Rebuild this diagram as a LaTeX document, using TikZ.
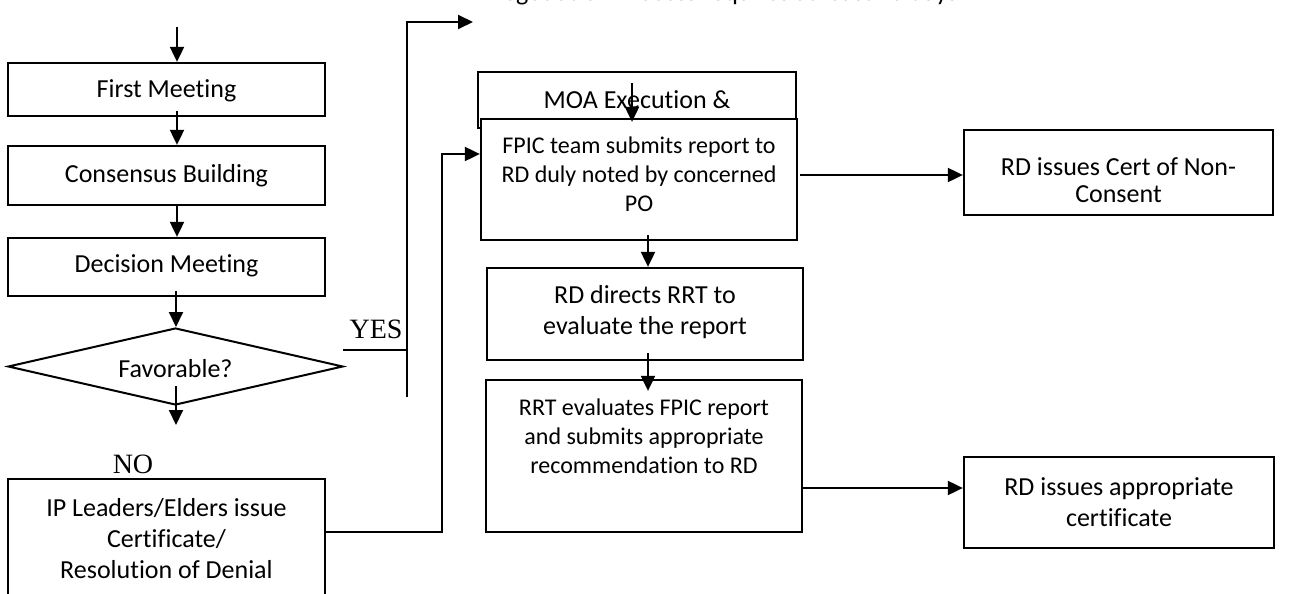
\documentclass[tikz,border=0pt]{standalone}
\usepackage{fontspec}
\setmainfont[Ligatures={NoCommon}]{Carlito}
\newfontfamily\serifyn{Liberation Serif}
\usetikzlibrary{arrows.meta,shapes.geometric,calc}
\tikzset{
  box/.style={draw=black, line width=2.3pt, fill=white, rectangle, inner sep=0pt},
  txt/.style={align=center, inner sep=0pt, font=\fontsize{26}{31}\selectfont},
  stxt/.style={align=center, inner sep=0pt, font=\fontsize{24}{29}\selectfont},
  arr/.style={line width=2pt, -{Triangle[length=15pt,width=14pt]}},
  ln/.style={line width=2pt},
  yn/.style={inner sep=0pt, font=\serifyn\fontsize{28}{30}\selectfont}
}
\begin{document}
\begin{tikzpicture}[x=1pt,y=-1pt]
\useasboundingbox (0,0) rectangle (1294,594);
% clipped heading
\node[txt, anchor=base] (head) at (722,1) {Negotiation Process requires at least 15 days};
% left column
\node[box, minimum width=317pt, minimum height=53pt] (first) at (166.5,89.5) {};
\node[txt] (firstT) at (166.5,91) {First Meeting};
\node[box, minimum width=317pt, minimum height=59pt] (cons) at (166.5,175.5) {};
\node[txt] (consT) at (166.5,176) {Consensus Building};
\node[box, minimum width=317pt, minimum height=58pt] (dec) at (166.5,267) {};
\node[txt] (decT) at (166.5,266) {Decision Meeting};
\node[draw=black, line width=2pt, diamond, inner sep=0pt, minimum width=335pt, minimum height=77pt] (fav) at (175.5,366.5) {};
\node[txt] (favT) at (175.5,369) {Favorable?};
\node[yn] (no) at (133,464) {NO};
\node[box, minimum width=317pt, minimum height=131pt] (ip) at (166.5,544.5) {};
\node[txt] (ipT) at (166.5,539) {IP Leaders/Elders issue\\Certificate/\\Resolution of Denial};
\node[yn] (yes) at (376,329) {YES};
% middle column
\node[box, minimum width=318pt, minimum height=56pt] (moa) at (637,100) {};
\node[txt] (moaT) at (637,100) {MOA Execution \&};
\node[box, minimum width=316pt, minimum height=121pt] (fpic) at (639,179.5) {};
\node[stxt] (fpicT) at (639,174) {FPIC team submits report to\\RD duly noted by concerned\\PO};
\node[box, minimum width=316pt, minimum height=92pt] (rdd) at (645,314) {};
\node[txt] (rddT) at (645,312.5) {RD directs RRT to\\evaluate the report};
\node[box, minimum width=316pt, minimum height=152pt] (rrt) at (644,456) {};
\node[stxt] (rrtT) at (644,436) {RRT evaluates FPIC report\\and submits appropriate\\recommendation to RD};
% right column
\node[box, minimum width=309pt, minimum height=85pt] (noncons) at (1118.5,172.5) {};
\node[txt, font=\fontsize{26}{27}\selectfont] (nonconsT) at (1118.5,180) {RD issues Cert of Non-\\Consent};
\node[box, minimum width=310pt, minimum height=91pt] (appr) at (1119,502.5) {};
\node[txt] (apprT) at (1119,502.5) {RD issues appropriate\\certificate};
% connectors
\coordinate (start) at (177,27);
\draw[arr] (start) -- (start |- first.north);
\draw[arr] ([xshift=10.5pt,yshift=6pt]first.south) -- ([xshift=10.5pt]cons.north);
\draw[arr] ([xshift=10.5pt,yshift=2pt]cons.south) -- ([xshift=10.5pt]dec.north);
\draw[arr] ([xshift=9.5pt,yshift=6pt]dec.south) -- ([xshift=0.5pt]fav.north);
\coordinate (nodown) at (176,425);
\draw[arr] ([xshift=0.5pt,yshift=20pt]fav.south) -- (nodown);
% YES branch
\coordinate (yesA) at (343,350);
\coordinate (yesB) at (407,350);
\coordinate (vbot) at (407,397);
\coordinate (vtop) at (407,22);
\coordinate (yesEnd) at (473,22);
\draw[ln] (yesA) -- (yesB);
\draw[arr] (vbot) -- (vtop) -- (yesEnd);
% NO branch to FPIC
\draw[arr] ([yshift=12.5pt]ip.east) -- ++(116,0) |- ([yshift=25.5pt]fpic.west);
% middle arrows
\draw[arr] ([xshift=-5pt,yshift=-12pt]moa.north) -- ([xshift=-7pt,yshift=-4pt]fpic.north);
\draw[arr] ([xshift=2pt,yshift=4.5pt]fpic.east) -- ([yshift=4.5pt]fpic.east -| noncons.west);
\draw[arr] ([xshift=9pt,yshift=6pt]fpic.south) -- ([xshift=3pt]rdd.north);
\draw[arr] ([xshift=3pt,yshift=8pt]rdd.south) -- ([xshift=4pt,yshift=-12pt]rrt.north);
\draw[arr] ([yshift=-32pt]rrt.east) -- ([yshift=-32pt]rrt.east -| appr.west);
\end{tikzpicture}
\end{document}
